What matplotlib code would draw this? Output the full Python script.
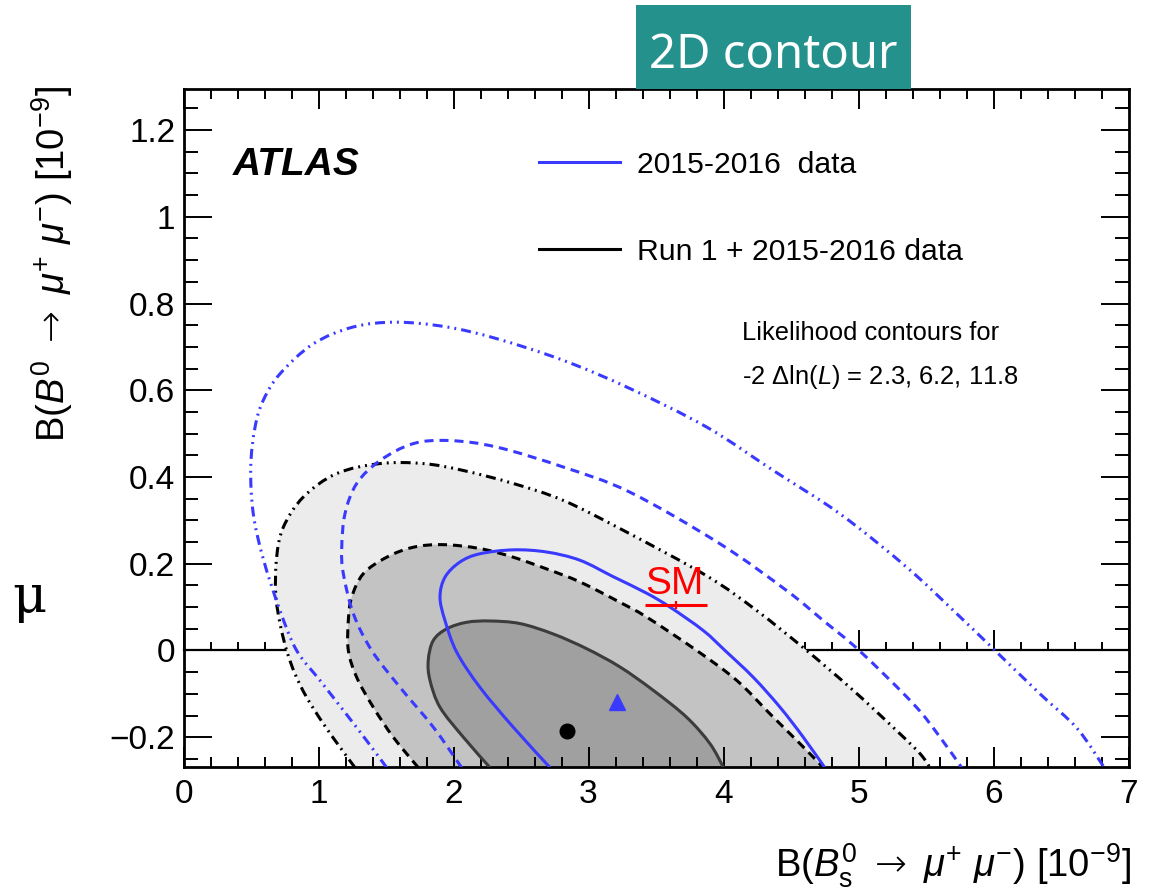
import matplotlib
matplotlib.use("Agg")
import numpy as np
import matplotlib.pyplot as plt
from matplotlib.ticker import MultipleLocator, FuncFormatter
from matplotlib.lines import Line2D
from matplotlib.patches import Rectangle, PathPatch
from matplotlib.path import Path

plt.rcParams["font.family"] = ["Liberation Sans", "DejaVu Sans"]
plt.rcParams["mathtext.fontset"] = "custom"
plt.rcParams["mathtext.rm"] = "Liberation Sans"
plt.rcParams["mathtext.it"] = "Liberation Sans:italic"
plt.rcParams["mathtext.bf"] = "Liberation Sans:bold"
plt.rcParams["mathtext.sf"] = "DejaVu Sans:light"
plt.rcParams["lines.scale_dashes"] = False

# ---------------- contour data: B(Bs->mumu) [1e-9] vs B(B0->mumu) [1e-9] ----------------
# Run 1 + 2015-2016 data
comb_11p8_x = [1.270, 1.159, 1.036, 0.912, 0.826, 0.764, 0.715, 0.683, 0.690, 0.739, 0.888, 1.135,
               1.456, 1.776, 2.073, 2.443, 2.813, 3.258, 3.876, 4.246, 4.616, 4.961, 5.283, 5.456,
               5.530]
comb_11p8_y = [-0.270, -0.223, -0.169, -0.108, -0.054, 0.000, 0.062, 0.131, 0.215, 0.284, 0.354, 0.408,
               0.431, 0.431, 0.415, 0.385, 0.346, 0.277, 0.172, 0.092, 0.000, -0.092, -0.185, -0.238,
               -0.270]
comb_6p2_x = [1.739, 1.554, 1.406, 1.283, 1.221, 1.221, 1.246, 1.332, 1.505, 1.702, 1.924, 2.196,
              2.443, 2.690, 2.937, 3.233, 3.431, 3.801, 4.098, 4.344, 4.567, 4.740]
comb_6p2_y = [-0.270, -0.200, -0.131, -0.062, 0.000, 0.069, 0.123, 0.177, 0.215, 0.238, 0.244, 0.235,
              0.215, 0.188, 0.158, 0.111, 0.077, 0.000, -0.069, -0.146, -0.215, -0.270]
comb_2p3_x = [2.270, 2.073, 1.900, 1.826, 1.813, 1.850, 1.950, 2.098, 2.270, 2.493, 2.739, 2.987,
              3.233, 3.480, 3.727, 3.900, 4.000]
comb_2p3_y = [-0.270, -0.200, -0.131, -0.069, -0.023, 0.023, 0.050, 0.065, 0.068, 0.062, 0.038, 0.004,
              -0.038, -0.092, -0.154, -0.215, -0.270]

# 2015-2016 data only
run2_11p8_x = [1.505, 1.357, 1.184, 1.011, 0.838, 0.715, 0.591, 0.517, 0.498, 0.530, 0.591, 0.715,
               0.961, 1.258, 1.579, 1.950, 2.320, 2.813, 3.307, 3.876, 4.369, 4.863, 5.357, 5.727,
               6.011, 6.344, 6.620, 6.820]
run2_11p8_y = [-0.270, -0.208, -0.138, -0.069, 0.000, 0.092, 0.211, 0.315, 0.423, 0.515, 0.577, 0.638,
               0.707, 0.746, 0.757, 0.746, 0.719, 0.669, 0.604, 0.515, 0.415, 0.315, 0.192, 0.085,
               0.000, -0.100, -0.180, -0.270]
run2_6p2_x = [2.060, 1.851, 1.604, 1.394, 1.258, 1.184, 1.172, 1.196, 1.283, 1.456, 1.702, 1.974,
              2.320, 2.813, 3.307, 3.974, 4.468, 4.739, 5.005, 5.406, 5.604, 5.764]
run2_6p2_y = [-0.270, -0.177, -0.085, 0.000, 0.085, 0.177, 0.235, 0.315, 0.385, 0.438, 0.477, 0.484,
              0.469, 0.423, 0.365, 0.246, 0.138, 0.069, 0.000, -0.123, -0.200, -0.270]
run2_2p3_x = [2.715, 2.443, 2.196, 2.024, 1.937, 1.900, 1.937, 2.048, 2.196, 2.443, 2.690, 2.937,
              3.184, 3.431, 3.604, 3.850, 4.011, 4.221, 4.419, 4.591, 4.750]
run2_2p3_y = [-0.270, -0.177, -0.085, -0.004, 0.069, 0.123, 0.169, 0.204, 0.223, 0.232, 0.227, 0.208,
              0.170, 0.132, 0.100, 0.046, 0.000, -0.062, -0.131, -0.200, -0.270]

# best-fit points and SM prediction
comb_best = (2.84, -0.186)
run2_best = (3.21, -0.119)
sm_bs, sm_bs_err, sm_b0 = 3.65, 0.23, 0.105

legend_labels = ["2015-2016  data", "Run 1 + 2015-2016 data"]
xticks_major, xticks_minor = 1.0, 0.2
yticks_major, yticks_minor = 0.2, 0.05
xlim = (0.0, 7.0)
ylim = (-0.268, 1.294)

# ---------------- styling ----------------
BLUE = "#3a3aff"
FILL_OUT, FILL_MID, FILL_IN = "#ececec", "#c3c3c3", "#a0a0a0"
LINE_IN = "#3c3c3c"
DASH = (0, (6.5, 4.3))
DASH_DOT_DOT = (0, (7.2, 3.6, 1.4, 3.6, 1.4, 3.6))
LW = 2.2
TITLE_SIZE = 27.5


def smooth_path(xs, ys, closed=False):
    """Smooth Bezier path running through the given contour points."""
    pts = np.column_stack([xs, ys]).astype(float)
    n = len(pts)
    verts, codes = [pts[0]], [Path.MOVETO]
    for i in range(n - 1):
        p0 = pts[i - 1] if i > 0 else pts[i]
        p1, p2 = pts[i], pts[i + 1]
        p3 = pts[i + 2] if i + 2 < n else pts[i + 1]
        verts += [p1 + (p2 - p0) / 6.0, p2 - (p3 - p1) / 6.0, p2]
        codes += [Path.CURVE4] * 3
    if closed:
        verts += [pts[0], pts[0]]
        codes += [Path.LINETO, Path.CLOSEPOLY]
    return Path(np.array(verts), codes)


W, H = 1149, 890
fig = plt.figure(figsize=(W / 100, H / 100), dpi=100)
ax = fig.add_axes([183.5 / W, 1 - 766.7 / H, (1128.5 - 183.5) / W, (766.7 - 89.3) / H])
ax.set_xlim(*xlim)
ax.set_ylim(*ylim)

# filled combined contours
for (cx, cy), col, z in [((comb_11p8_x, comb_11p8_y), FILL_OUT, 1.0),
                         ((comb_6p2_x, comb_6p2_y), FILL_MID, 1.1),
                         ((comb_2p3_x, comb_2p3_y), FILL_IN, 1.2)]:
    ax.add_patch(PathPatch(smooth_path(cx, cy, closed=True), facecolor=col, edgecolor="none", zorder=z))

contour_lines = [
    (comb_11p8_x, comb_11p8_y, "black", DASH_DOT_DOT, 3.0),
    (comb_6p2_x, comb_6p2_y, "black", DASH, 3.0),
    (comb_2p3_x, comb_2p3_y, LINE_IN, "solid", 3.0),
    (run2_11p8_x, run2_11p8_y, BLUE, DASH_DOT_DOT, 3.1),
    (run2_6p2_x, run2_6p2_y, BLUE, DASH, 3.1),
    (run2_2p3_x, run2_2p3_y, BLUE, "solid", 3.1),
]
for cx, cy, col, ls, z in contour_lines:
    ax.add_patch(PathPatch(smooth_path(cx, cy), facecolor="none", edgecolor=col, lw=LW,
                           linestyle=ls, capstyle="butt", zorder=z))

ax.plot([comb_best[0]], [comb_best[1]], "o", color="black", ms=10.5, zorder=4)
ax.plot([run2_best[0]], [run2_best[1]], "^", color=BLUE, ms=11, mec=BLUE, zorder=4)

# SM prediction
ax.errorbar([sm_bs], [sm_b0], xerr=[sm_bs_err], fmt="none", ecolor="red", elinewidth=2.2,
            capsize=0, zorder=4)
ax.plot([sm_bs], [sm_b0], marker="|", color="red", ms=6, mew=1.6, zorder=4)
ax.text(sm_bs - sm_bs_err, sm_b0 + 0.026, "SM", color="red", fontsize=28,
        ha="left", va="baseline", zorder=4)

# axes, ticks
fmt = FuncFormatter(lambda v, p: "0" if abs(v) < 1e-9 else ("%g" % round(v, 6)).replace("-", "\u2212"))
ax.xaxis.set_major_locator(MultipleLocator(xticks_major))
ax.xaxis.set_minor_locator(MultipleLocator(xticks_minor))
ax.yaxis.set_major_locator(MultipleLocator(yticks_major))
ax.yaxis.set_minor_locator(MultipleLocator(yticks_minor))
ax.xaxis.set_major_formatter(fmt)
ax.yaxis.set_major_formatter(fmt)
ax.tick_params(axis="both", which="both", direction="in", top=True, right=True,
               labelsize=24, color="black", width=1.4)
ax.tick_params(axis="x", which="major", length=14.4, pad=9)
ax.tick_params(axis="x", which="minor", length=7.2)
ax.tick_params(axis="y", which="major", length=20, pad=6)
ax.tick_params(axis="y", which="minor", length=10)
for s in ax.spines.values():
    s.set_linewidth(2.0)

# zero line with its own ticks
sec = ax.secondary_xaxis(0, transform=ax.transData)
sec.xaxis.set_major_locator(MultipleLocator(xticks_major))
sec.xaxis.set_minor_locator(MultipleLocator(xticks_minor))
sec.tick_params(which="both", direction="in", labelbottom=False, width=1.4)
sec.tick_params(which="major", length=14.4)
sec.tick_params(which="minor", length=6)
sec.spines["bottom"].set_linewidth(1.6)

# legend
handles = [Line2D([], [], color=BLUE, lw=LW), Line2D([], [], color="black", lw=LW)]
leg_y = [0.8922, 0.7643]
for h, lab, yy in zip(handles, legend_labels, leg_y):
    ax.add_line(Line2D([0.3762, 0.4619], [yy, yy], color=h.get_color(), lw=LW,
                       transform=ax.transAxes, zorder=5))
    ax.text(0.4802, yy, lab, transform=ax.transAxes, fontsize=21.7, ha="left", va="center_baseline")

ax.text(0.0524, 0.8735, "ATLAS", transform=ax.transAxes, fontsize=28, fontweight="bold",
        fontstyle="italic", ha="left", va="baseline")
ax.text(0.5907, 0.6299, "Likelihood contours for", transform=ax.transAxes, fontsize=18.4,
        ha="left", va="baseline")
ax.text(0.5907, 0.5650, r"-2 $\Delta$ln($L$) = 2.3, 6.2, 11.8", transform=ax.transAxes,
        fontsize=18.4, ha="left", va="baseline")

# axis titles
fig.text(1131 / W, 1 - 877 / H,
         r"B($B^{0}_{\mathrm{s}}$ $\mathsf{\rightarrow}$ $\mu^{+}$ $\mu^{-}$) [10$^{-9}$]",
         fontsize=TITLE_SIZE, ha="right", va="baseline")
fig.text(52 / W, 1 - 86 / H,
         r"B($B^{0}$ $\mathsf{\rightarrow}$ $\mu^{+}$ $\mu^{-}$) [10$^{-9}$]",
         fontsize=TITLE_SIZE, rotation=90, ha="center", va="top")

# slide title tag
fig.patches.append(Rectangle((635.7 / W, 1 - 89.3 / H), 275 / W, 84.3 / H,
                             transform=fig.transFigure, facecolor="#25918d",
                             edgecolor="none", zorder=10))
fig.text(773 / W, 1 - 68.3 / H, "2D contour", family=["Noto Sans", "DejaVu Sans"],
         fontsize=34, color="white", ha="center", va="baseline", zorder=11)

# edge of neighbouring slide text
fig.text(46 / W, 1 - 612 / H, "\u03bc", family=["DejaVu Serif", "Liberation Serif"],
         fontsize=38, ha="right", va="baseline")

fig.savefig("out.png", dpi=100)
